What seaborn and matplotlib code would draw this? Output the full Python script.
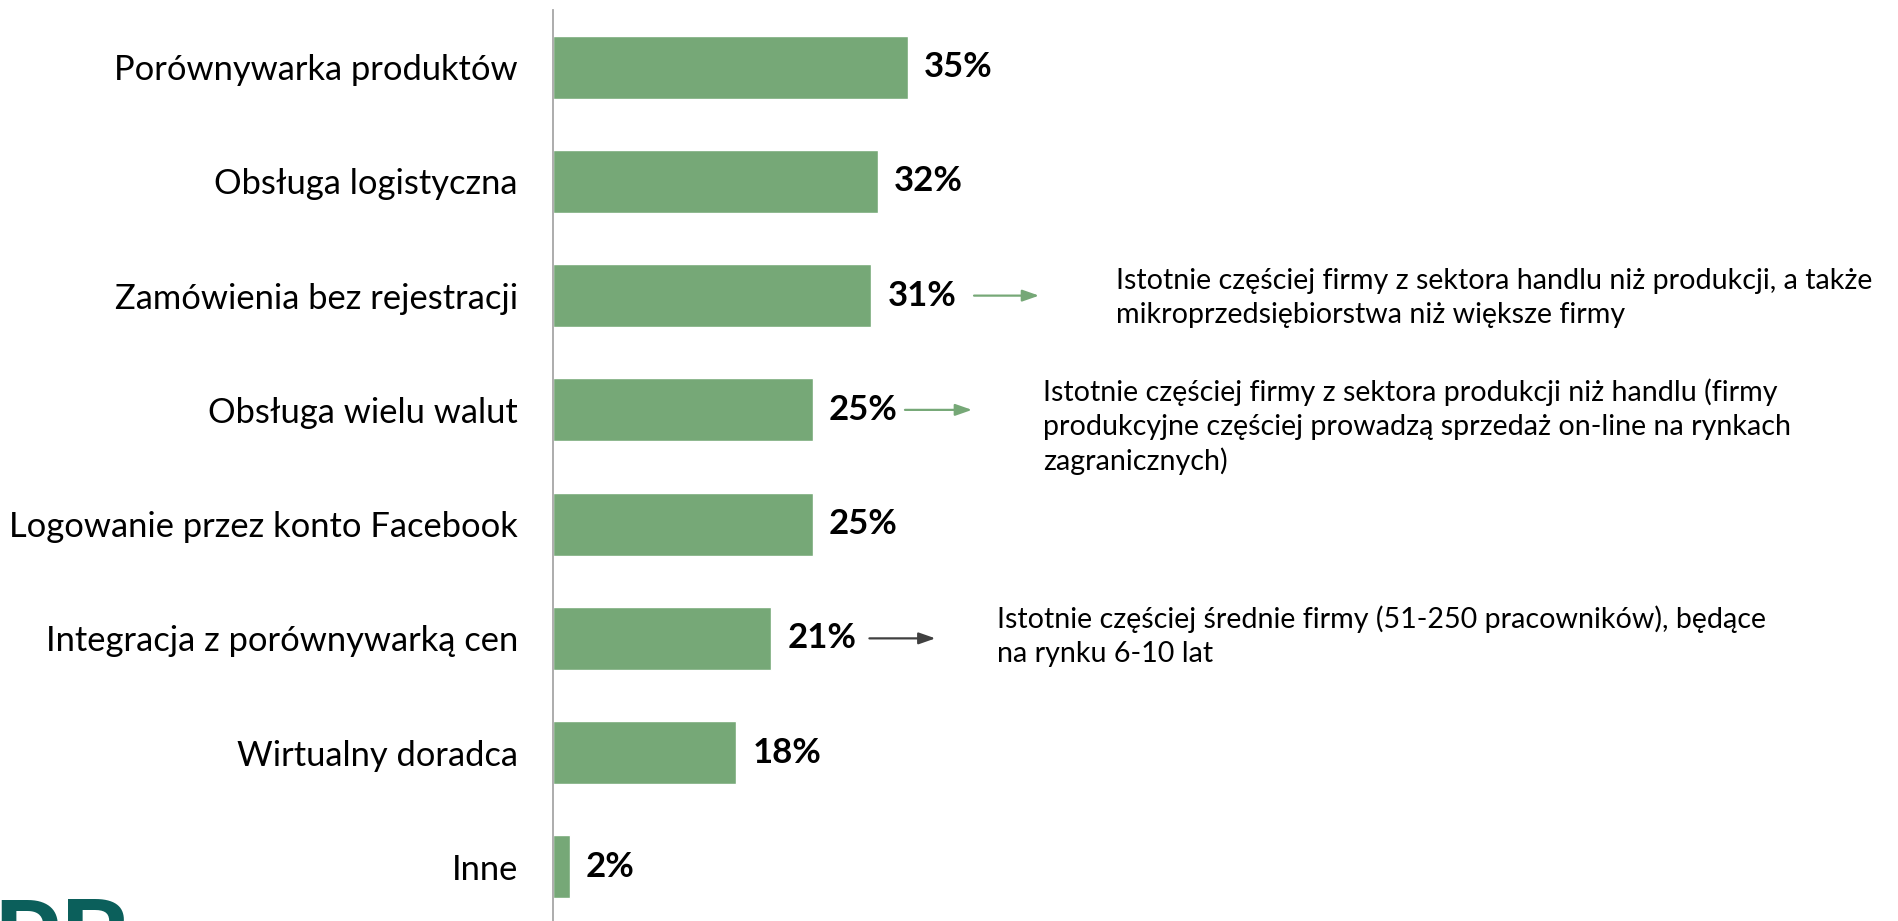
import matplotlib
matplotlib.use("Agg")
import matplotlib.pyplot as plt
import seaborn as sns

# dane
categories = [
    "Porównywarka produktów",
    "Obsługa logistyczna",
    "Zamówienia bez rejestracji",
    "Obsługa wielu walut",
    "Logowanie przez konto Facebook",
    "Integracja z porównywarką cen",
    "Wirtualny doradca",
    "Inne",
]
values = [35.0, 32.0, 31.4, 25.6, 25.6, 21.5, 18.1, 1.7]
value_labels = ["35%", "32%", "31%", "25%", "25%", "21%", "18%", "2%"]

notes = [
    "Istotnie częściej firmy z sektora handlu niż produkcji, a także\nmikroprzedsiębiorstwa niż większe firmy",
    "Istotnie częściej firmy z sektora produkcji niż handlu (firmy\nprodukcyjne częściej prowadzą sprzedaż on-line na rynkach\nzagranicznych)",
    "Istotnie częściej średnie firmy (51-250 pracowników), będące\nna rynku 6-10 lat",
]
note_rows = [2, 3, 5]

GREEN = "#76A877"
DARK = "#404040"

sns.set_style("white")
plt.rcParams['font.family'] = ['Lato', 'DejaVu Sans']

fig = plt.figure(figsize=(18.98, 9.21), dpi=100)
W, H = 1898, 921
ax = fig.add_axes([552.5 / W, -3 / H, (1873 - 552.5) / W, (924 - 10) / H])

sns.barplot(x=values, y=categories, color=GREEN, width=0.55, saturation=1, ax=ax)

ax.set_xlim(0, 130)
ax.set_ylim(7.5, -0.5)
ax.set_xlabel("")
ax.set_ylabel("")
ax.set_xticks([])

# oś Y – tylko lewa linia z kreskami pomiędzy kategoriami
for side in ["top", "right", "bottom"]:
    ax.spines[side].set_visible(False)
ax.spines["left"].set_color("#A6A6A6")
ax.spines["left"].set_linewidth(1.3)
ax.tick_params(axis="y", which="major", length=0, pad=25, labelsize=24.8, labelcolor="black")
ax.set_yticks([i + 0.5 for i in range(-1, len(categories))], minor=True)
ax.tick_params(axis="y", which="minor", length=8, width=1.3, color="#A6A6A6")

# etykiety wartości
for i, (v, lab) in enumerate(zip(values, value_labels)):
    ax.text(v + 1.6, i, lab, va="center", ha="left", fontsize=25,
            fontweight="bold", color="black")

# strzałki i komentarze
arrows = [(41.5, 47.9, GREEN), (34.7, 41.3, GREEN), (31.2, 37.7, DARK)]
note_x = [55.5, 48.3, 43.75]
note_y = [2.02, 3.15, 4.98]
for row, (x0, x1, col), nx, ny, txt in zip(note_rows, arrows, note_x, note_y, notes):
    ax.annotate("", xy=(x1, row), xytext=(x0, row),
                arrowprops=dict(arrowstyle="-|>,head_length=1.0,head_width=0.35",
                                color=col, lw=1.6, shrinkA=0, shrinkB=0))
    ax.text(nx, ny, txt, va="center", ha="left", fontsize=20.6,
            color="black", linespacing=1.35)

# fragment logo w lewym dolnym rogu
fig.text(-0.004, -0.06, "PB", fontsize=78, fontweight="bold",
         color="#0B5F5B", ha="left", va="baseline")

fig.savefig("out.png", dpi=100)
